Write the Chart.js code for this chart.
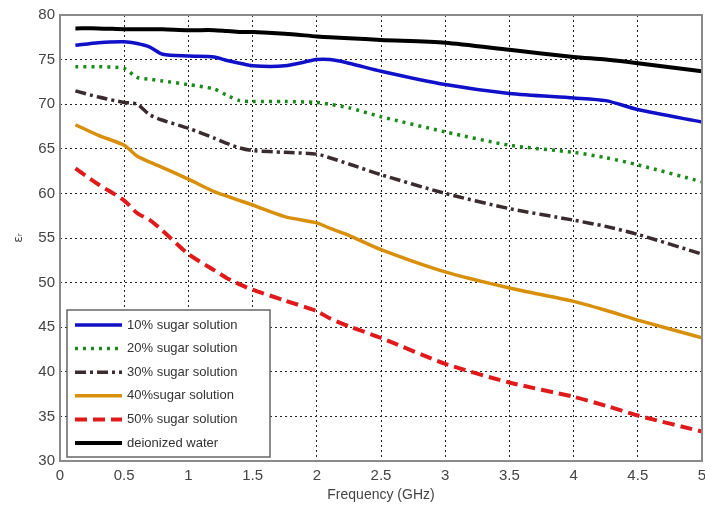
<!DOCTYPE html>
<html>
<head>
<meta charset="utf-8">
<script src="https://cdn.jsdelivr.net/npm/chart.js@4.4.1/dist/chart.umd.min.js"></script>
<style>
html,body{margin:0;padding:0;background:#fff;}
#wrap{width:705px;height:512px;}
</style>
</head>
<body>
<div id="wrap"><canvas id="c" width="705" height="512"></canvas></div>
<script>
const freq = [0.12,0.3,0.5,0.6,0.7,0.8,1.0,1.2,1.3,1.4,1.5,1.75,2.0,2.1,2.25,2.5,3.0,3.5,4.0,4.25,4.5,5.0];
const sugar10 = [76.6,76.9,77.0,76.8,76.4,75.6,75.4,75.3,74.9,74.6,74.3,74.3,75.0,75.0,74.6,73.7,72.2,71.2,70.7,70.4,69.4,68.0];
const sugar20 = [74.2,74.2,74.0,73.0,72.8,72.6,72.2,71.7,71.0,70.4,70.3,70.3,70.2,70.0,69.6,68.6,66.9,65.4,64.6,64.0,63.2,61.3];
const sugar30 = [71.5,70.8,70.2,70.0,68.8,68.2,67.3,66.2,65.6,65.1,64.8,64.6,64.4,64.0,63.3,62.1,60.0,58.3,57.0,56.3,55.4,53.2];
const sugar40 = [67.7,66.5,65.4,64.2,63.5,62.9,61.6,60.2,59.7,59.2,58.7,57.4,56.7,56.1,55.3,53.7,51.2,49.4,47.9,46.9,45.8,43.8];
const sugar50 = [62.8,61.0,59.2,57.8,57.0,55.8,53.2,51.4,50.5,49.8,49.2,48.0,46.8,46.0,45.1,43.8,40.9,38.8,37.2,36.2,35.1,33.3];
const water   = [78.5,78.5,78.4,78.4,78.4,78.4,78.3,78.3,78.2,78.1,78.1,77.9,77.6,77.5,77.4,77.2,76.9,76.1,75.3,75.0,74.6,73.7];
const seriesLabels = ['10% sugar solution','20% sugar solution','30% sugar solution','40%sugar solution','50% sugar solution','deionized water'];
const xTicks = [0,0.5,1,1.5,2,2.5,3,3.5,4,4.5,5];
const yTicks = [30,35,40,45,50,55,60,65,70,75,80];

const pts = arr => arr.map((v,i)=>({x:freq[i], y:v}));
const styles = [
  {color:'#1010c8', width:3.5, dash:[]},
  {color:'#1a8a1a', width:3.5, dash:[3,5]},
  {color:'#3a2c2e', width:3.5, dash:[11,4,3,4]},
  {color:'#d8900c', width:3.5, dash:[]},
  {color:'#e01a1a', width:4, dash:[12,6]},
  {color:'#000000', width:4, dash:[]}
];
const values = [sugar10,sugar20,sugar30,sugar40,sugar50,water];
const datasets = values.map((v,i)=>({
  label: seriesLabels[i],
  data: pts(v),
  borderColor: styles[i].color,
  borderWidth: styles[i].width,
  borderDash: styles[i].dash,
  pointRadius: 0,
  tension: 0.25,
  fill: false
}));

const framePlugin = {
  id:'frame',
  afterDraw(chart){
    const {ctx, chartArea:a} = chart;
    ctx.save();
    ctx.strokeStyle='#8a8a8a';
    ctx.lineWidth=2;
    ctx.strokeRect(a.left,a.top,a.right-a.left,a.bottom-a.top);
    ctx.restore();
  }
};
const legendPlugin = {
  id:'boxLegend',
  afterDraw(chart){
    const ctx = chart.ctx;
    const a = chart.chartArea;
    const x0 = a.left+7, y0 = 310, w = 203, h = 147;
    ctx.save();
    ctx.fillStyle='#fff';
    ctx.fillRect(x0,y0,w,h);
    ctx.strokeStyle='#666';
    ctx.lineWidth=1.5;
    ctx.strokeRect(x0,y0,w,h);
    ctx.font='13px "Liberation Sans", Arial, sans-serif';
    ctx.textBaseline='middle';
    chart.data.datasets.forEach((ds,i)=>{
      const y = y0+15+i*23.6;
      ctx.beginPath();
      ctx.strokeStyle=ds.borderColor;
      ctx.lineWidth=ds.borderWidth;
      ctx.setLineDash(ds.borderDash||[]);
      ctx.moveTo(x0+8,y); ctx.lineTo(x0+55,y);
      ctx.stroke();
      ctx.setLineDash([]);
      ctx.fillStyle='#333';
      ctx.fillText(ds.label,x0+60,y);
    });
    ctx.restore();
  }
};

const fmt = v => String(Number(v));

new Chart(document.getElementById('c'),{
  type:'line',
  data:{datasets},
  plugins:[framePlugin,legendPlugin],
  options:{
    responsive:false,
    animation:false,
    layout:{padding:{top:15,right:3,left:0,bottom:0}},
    plugins:{legend:{display:false},tooltip:{enabled:false}},
    scales:{
      x:{
        type:'linear', min:0, max:5,
        afterBuildTicks(s){ s.ticks = xTicks.map(v=>({value:v})); },
        afterFit(s){ s.height = 51; s.paddingLeft = 0; s.paddingRight = 0; },
        grid:{color:'#222', lineWidth:1, drawTicks:false},
        border:{display:false, dash:[2,3]},
        ticks:{padding:6, color:'#444', callback:fmt, font:{family:'"Liberation Sans", Arial, sans-serif', size:15}, maxRotation:0},
        title:{display:true, text:'Frequency (GHz)', color:'#444', padding:{top:2,bottom:8}, font:{family:'"Liberation Sans", Arial, sans-serif', size:14}}
      },
      y:{
        type:'linear', min:30, max:80,
        afterBuildTicks(s){ s.ticks = yTicks.map(v=>({value:v})); },
        afterFit(s){ s.width = 60; s.paddingTop = 0; s.paddingBottom = 0; },
        grid:{color:'#222', lineWidth:1, drawTicks:false},
        border:{display:false, dash:[2,3]},
        ticks:{padding:5, color:'#444', callback:fmt, font:{family:'"Liberation Sans", Arial, sans-serif', size:15}},
        title:{display:true, text:'εᵣ', color:'#444', padding:{top:12,bottom:0}, font:{family:'"DejaVu Sans", sans-serif', size:12}}
      }
    }
  }
});
</script>
</body>
</html>
